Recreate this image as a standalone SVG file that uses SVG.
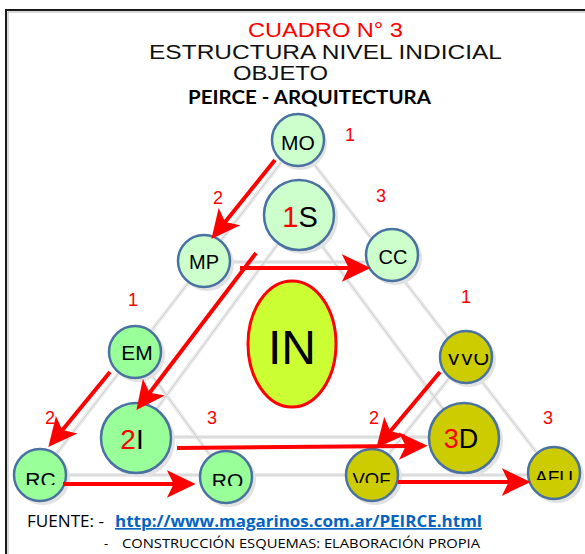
<svg xmlns="http://www.w3.org/2000/svg" width="585" height="554" viewBox="0 0 585 554">
<style>
.t{font-family:"Liberation Sans",Arial,sans-serif;}
.num{font-family:"Liberation Sans",Arial,sans-serif;font-size:18px;fill:#ff0000;text-anchor:middle;}
.lbl{font-family:"Liberation Sans",Arial,sans-serif;fill:#000;text-anchor:middle;}
.ga{stroke:#ebebeb;stroke-width:4;fill:none;}
.gb{stroke:#cdcdcd;stroke-width:1;fill:none;}
.nd{stroke:#4a72a0;stroke-width:2.5;}
.sh{fill:#e2e2e2;}
.top{fill:#ccffcc;}
.left{fill:#99ff99;}
.right{fill:#cccc00;}
.arr{stroke:#ff0000;stroke-width:4;fill:none;marker-end:url(#ah);}
.ft{font-family:"Open Sans","Noto Sans",sans-serif;fill:#000;}
</style>
<defs>
<marker id="ah" markerUnits="userSpaceOnUse" markerWidth="30" markerHeight="30" viewBox="0 -13 26 26" refX="8" refY="0" orient="auto">
<path d="M0,-12 L25,0 L0,12 L6,0 Z" fill="#ff0000"/>
</marker>
<clipPath id="cRC"><rect x="0" y="400" width="100" height="85"/></clipPath>
<clipPath id="cRO"><rect x="180" y="400" width="100" height="86"/></clipPath>
<clipPath id="cVOF"><rect x="330" y="400" width="90" height="83"/></clipPath>
<clipPath id="cAFU"><rect x="510" y="400" width="75" height="80"/></clipPath>
<clipPath id="cVVO"><rect x="420" y="354" width="90" height="40"/></clipPath>
</defs>
<rect width="585" height="554" fill="#ffffff"/>
<path d="M6,554 V10 H585" fill="none" stroke="#1a1a1a" stroke-width="2"/>
<path d="M8,554 V12 H585" fill="none" stroke="#a0a0a0" stroke-width="0.8"/>

<g id="title">
<text class="t" x="248" y="37" font-size="21" fill="#ff0000" textLength="155" lengthAdjust="spacingAndGlyphs">CUADRO N° 3</text>
<text class="t" x="149" y="59" font-size="21" fill="#111" textLength="353" lengthAdjust="spacingAndGlyphs">ESTRUCTURA NIVEL INDICIAL</text>
<text class="t" x="233" y="80" font-size="21" fill="#111" textLength="95" lengthAdjust="spacingAndGlyphs">OBJETO</text>
<text x="188" y="104" font-family="Lato,'Open Sans',sans-serif" font-weight="bold" font-size="19.5" fill="#000" textLength="243" lengthAdjust="spacingAndGlyphs">PEIRCE - ARQUITECTURA</text>
</g>

<g id="guides">
<path class="ga" d="M297,142 L40,475 L554,475 Z M204,262 L392,262 M135,352 L226,477 M466,357 L372,475 M299,215 L136,437 L464,437 Z"/>
<path class="gb" d="M297,142 L40,475 L554,475 Z M204,262 L392,262 M135,352 L226,477 M466,357 L372,475 M299,215 L136,437 L464,437 Z"/>
</g>

<g id="numbers">
<text class="num" x="350" y="141">1</text>
<text class="num" x="218" y="204">2</text>
<text class="num" x="381" y="202">3</text>
<text class="num" x="133" y="306">1</text>
<text class="num" x="50" y="424">2</text>
<text class="num" x="212" y="424">3</text>
<text class="num" x="466" y="303">1</text>
<text class="num" x="374" y="424">2</text>
<text class="num" x="548" y="424">3</text>
</g>

<g id="node-MO"><circle class="sh" cx="300" cy="143" r="27"/><circle class="nd top" cx="298" cy="140" r="26"/><text class="lbl" x="298" y="150" font-size="21">MO</text></g>
<g id="node-1S"><circle class="sh" cx="302" cy="218" r="36"/><circle class="nd top" cx="299" cy="215" r="35"/><text class="lbl" x="300" y="227" font-size="29"><tspan fill="#ff0000">1</tspan>S</text></g>
<g id="node-MP"><circle class="sh" cx="207" cy="264" r="27"/><circle class="nd top" cx="204" cy="261" r="26"/><text class="lbl" x="204" y="269" font-size="20">MP</text></g>
<g id="node-CC"><circle class="sh" cx="395" cy="258" r="27"/><circle class="nd top" cx="392" cy="255" r="26"/><text class="lbl" x="393" y="264" font-size="20">CC</text></g>

<g id="node-IN"><ellipse cx="292" cy="344" rx="44" ry="63" fill="#ccff33" stroke="#ff0000" stroke-width="3"/><text class="lbl" x="292" y="364" font-size="48">IN</text></g>

<g id="node-EM"><circle class="sh" cx="138" cy="355" r="27"/><circle class="nd left" cx="135" cy="352" r="26"/><text class="lbl" x="137" y="360" font-size="21">EM</text></g>
<g id="node-2I"><circle class="sh" cx="139" cy="441" r="36"/><circle class="nd left" cx="136" cy="438" r="35"/><text class="lbl" x="132" y="449" font-size="28"><tspan fill="#ff0000">2</tspan>I</text></g>
<g id="node-RC"><circle class="sh" cx="43" cy="478" r="27"/><circle class="nd left" cx="40" cy="475" r="26"/><text class="lbl" x="40.5" y="487" font-size="21" clip-path="url(#cRC)">RC</text></g>
<g id="node-RO"><circle class="sh" cx="229" cy="480" r="27"/><circle class="nd left" cx="226" cy="477" r="26"/><text class="lbl" x="227.5" y="488" font-size="21" clip-path="url(#cRO)">RO</text></g>

<g id="node-VVO"><circle class="sh" cx="469" cy="360" r="27"/><circle class="nd right" cx="466" cy="357" r="26"/><text class="lbl" x="468" y="365" font-size="20" clip-path="url(#cVVO)">VVO</text></g>
<g id="node-3D"><circle class="sh" cx="467" cy="441" r="36"/><circle class="nd right" cx="464" cy="438" r="35"/><text class="lbl" x="461" y="448" font-size="27"><tspan fill="#ff0000">3</tspan>D</text></g>
<g id="node-VOF"><circle class="sh" cx="375" cy="478" r="27"/><circle class="nd right" cx="372" cy="475" r="26"/><text class="lbl" x="371.5" y="486" font-size="18.5" clip-path="url(#cVOF)">VOF</text></g>
<g id="node-AFU"><circle class="sh" cx="557" cy="476" r="27"/><circle class="nd right" cx="554" cy="473" r="26"/><text class="lbl" x="554" y="484" font-size="19" clip-path="url(#cAFU)">AFU</text></g>

<g id="connectors">
<line class="arr" x1="275" y1="160" x2="223.7" y2="223.8"/>
<line class="arr" x1="240" y1="268" x2="351" y2="268"/>
<line class="arr" x1="256" y1="253" x2="148.3" y2="394.5"/>
<line class="arr" x1="110" y1="372" x2="60.8" y2="431.9"/>
<line class="arr" x1="63" y1="484" x2="176" y2="484"/>
<line class="arr" x1="177" y1="448" x2="408" y2="446"/>
<line class="arr" x1="440" y1="372" x2="388.9" y2="433"/>
<line class="arr" x1="398" y1="482" x2="511" y2="482"/>
</g>

<g id="footer">
<text class="ft" x="27" y="527" font-size="16.5" textLength="77" lengthAdjust="spacingAndGlyphs">FUENTE: -</text>
<text x="115" y="527" font-family="'Open Sans','Noto Sans',sans-serif" font-weight="bold" font-size="16.5" fill="#0563c1" text-decoration="underline" textLength="367" lengthAdjust="spacingAndGlyphs">http://www.magarinos.com.ar/PEIRCE.html</text>
<text class="ft" x="104" y="548" font-size="13">-</text>
<text class="ft" x="122" y="548" font-size="13" textLength="358" lengthAdjust="spacingAndGlyphs">CONSTRUCCIÓN ESQUEMAS: ELABORACIÓN PROPIA</text>
</g>
</svg>
